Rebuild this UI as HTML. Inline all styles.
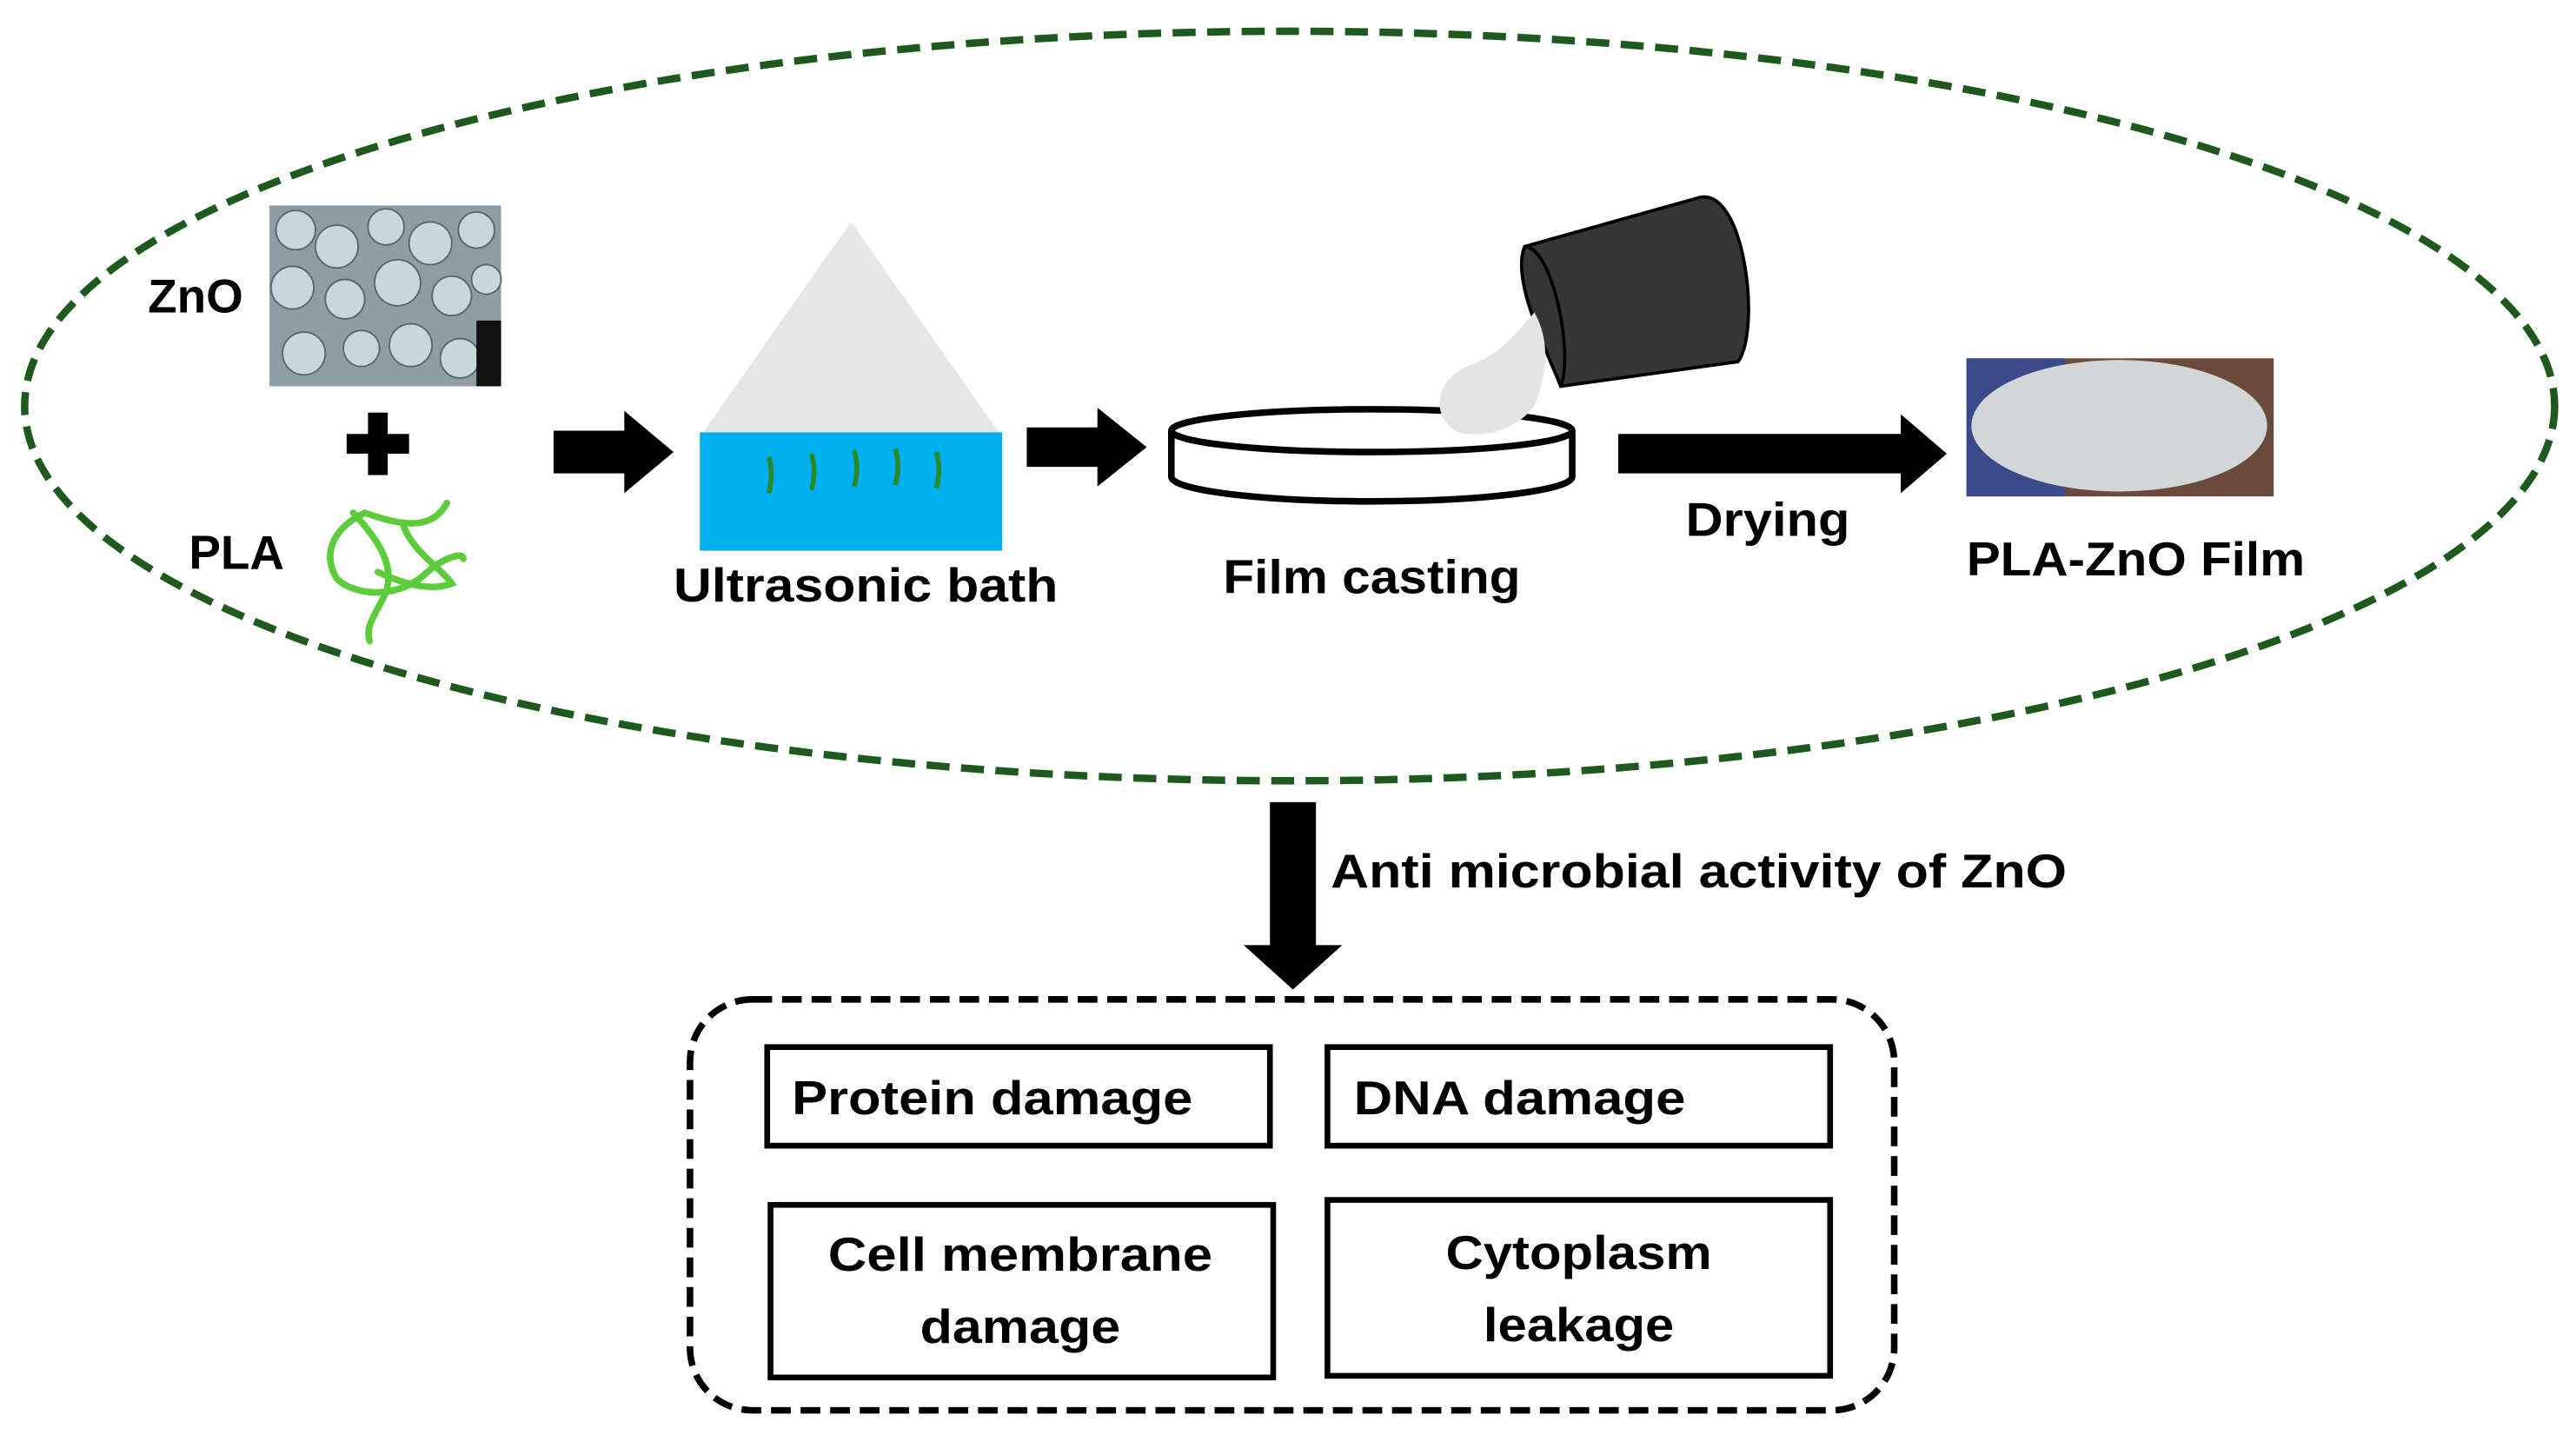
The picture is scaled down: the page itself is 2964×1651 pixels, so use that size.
<!DOCTYPE html>
<html><head><meta charset="utf-8"><style>
html,body{margin:0;padding:0;background:#fff;}
svg{display:block;}
text{font-family:"Liberation Sans",sans-serif;font-weight:bold;fill:#000;}
</style></head><body>
<svg width="2964" height="1651" viewBox="0 0 1568 873" preserveAspectRatio="none" xmlns="http://www.w3.org/2000/svg">
<rect width="1568" height="873" fill="#fff"/>
<ellipse cx="785" cy="247" rx="770" ry="228" fill="none" stroke="#1e5a1e" stroke-width="4.5" stroke-dasharray="14,7"/>
<!-- ZnO image -->
<rect x="164" y="125" width="141" height="110" fill="#8f9ea4"/>
<g fill="#c9d6da" stroke="#5a686e" stroke-width="1">
<circle cx="180" cy="140" r="12"/><circle cx="205" cy="150" r="13"/><circle cx="235" cy="138" r="11"/><circle cx="262" cy="148" r="13"/><circle cx="290" cy="140" r="11"/>
<circle cx="178" cy="175" r="13"/><circle cx="210" cy="182" r="12"/><circle cx="242" cy="172" r="14"/><circle cx="275" cy="180" r="12"/><circle cx="296" cy="170" r="9"/>
<circle cx="185" cy="215" r="13"/><circle cx="220" cy="212" r="11"/><circle cx="250" cy="210" r="13"/><circle cx="280" cy="218" r="12"/>
</g>
<rect x="290" y="195" width="15" height="40" fill="#111"/>
<text x="90" y="190" font-size="29">ZnO</text>
<rect x="224" y="251" width="12" height="38" fill="#000"/><rect x="211" y="264" width="38" height="12" fill="#000"/>
<text x="115" y="346" font-size="29">PLA</text>
<g fill="none" stroke="#5ccc3a" stroke-width="4" stroke-linecap="round">
<path d="M272 306 C262 325 240 318 222 312 C205 320 195 335 205 352 C215 362 240 365 258 350 C268 340 282 335 282 340"/>
<path d="M215 312 C232 330 240 345 235 360 C230 372 222 380 225 390"/>
<path d="M245 318 C250 335 268 345 275 355 C262 360 245 355 230 348"/>
</g>
<!-- arrow 1 -->
<path d="M337 262 L380 262 L380 250 L410 275 L380 300 L380 288 L337 288 Z" fill="#000"/>
<!-- triangle + bath -->
<path d="M518 135 L608 263 L428 263 Z" fill="#e6e6e6"/>
<rect x="426" y="263" width="184" height="72" fill="#00b0f0"/>
<g stroke="#2a8a2a" stroke-width="3" fill="none">
<path d="M468 278 q3 10 0 22"/><path d="M494 276 q3 10 0 22"/><path d="M520 274 q3 10 0 22"/><path d="M545 273 q3 10 0 22"/><path d="M570 275 q3 10 0 22"/>
</g>
<text x="527" y="366" font-size="29" text-anchor="middle" textLength="234" lengthAdjust="spacingAndGlyphs">Ultrasonic bath</text>
<!-- arrow 2 -->
<path d="M625 260 L668 260 L668 248 L698 272 L668 296 L668 284 L625 284 Z" fill="#000"/>
<!-- dish -->
<path d="M713 262 L713 290 A122 15 0 0 0 957 290 L957 262" fill="#fff" stroke="#000" stroke-width="4"/>
<ellipse cx="835" cy="262" rx="122" ry="13" fill="#fff" stroke="#000" stroke-width="4"/>
<!-- cup -->
<path d="M928 150 L1035 120 C1062 115 1072 200 1058 220 L950 235 C940 210 920 170 928 150 Z" fill="#363636" stroke="#000" stroke-width="2"/>
<path d="M928 150 C945 150 958 215 950 235" fill="none" stroke="#000" stroke-width="2"/>
<path d="M934 190 C945 210 940 230 935 245 C925 262 900 268 885 262 C870 250 875 230 895 222 C915 215 925 200 934 190 Z" fill="#e4e4e4"/>
<!-- arrow 3 -->
<path d="M985 264 L1157 264 L1157 252 L1185 276 L1157 300 L1157 288 L985 288 Z" fill="#000"/>
<text x="1076" y="326" font-size="29" text-anchor="middle" textLength="100" lengthAdjust="spacingAndGlyphs">Drying</text>
<text x="835" y="361" font-size="29" text-anchor="middle" textLength="181" lengthAdjust="spacingAndGlyphs">Film casting</text>
<!-- film image -->
<rect x="1197" y="218" width="187" height="84" fill="#6a4a3a"/>
<rect x="1197" y="218" width="60" height="84" fill="#3a4a8a"/>
<ellipse cx="1290" cy="259" rx="90" ry="40" fill="#d3d6d6"/>
<text x="1300" y="350" font-size="29" text-anchor="middle" textLength="206" lengthAdjust="spacingAndGlyphs">PLA-ZnO Film</text>
<!-- down arrow -->
<path d="M773 488 L801 488 L801 575 L817 575 L787 602 L757 575 L773 575 Z" fill="#000"/>
<text x="810" y="540" font-size="29" textLength="448" lengthAdjust="spacingAndGlyphs">Anti microbial activity of ZnO</text>
<!-- dashed box -->
<rect x="420" y="608" width="733" height="250" rx="38" fill="none" stroke="#000" stroke-width="4" stroke-dasharray="12,6"/>
<g fill="#fff" stroke="#000" stroke-width="3.5">
<rect x="467" y="637" width="306" height="60"/>
<rect x="808" y="637" width="306" height="60"/>
<rect x="469" y="733" width="306" height="105"/>
<rect x="808" y="730" width="306" height="107"/>
</g>
<g font-size="29">
<text x="482" y="678" textLength="244" lengthAdjust="spacingAndGlyphs">Protein damage</text>
<text x="824" y="678" textLength="202" lengthAdjust="spacingAndGlyphs">DNA damage</text>
<text x="621" y="773" text-anchor="middle" textLength="234" lengthAdjust="spacingAndGlyphs">Cell membrane</text>
<text x="621" y="817" text-anchor="middle" textLength="122" lengthAdjust="spacingAndGlyphs">damage</text>
<text x="961" y="772" text-anchor="middle" textLength="162" lengthAdjust="spacingAndGlyphs">Cytoplasm</text>
<text x="961" y="816" text-anchor="middle" textLength="116" lengthAdjust="spacingAndGlyphs">leakage</text>
</g>
</svg>
</body></html>
